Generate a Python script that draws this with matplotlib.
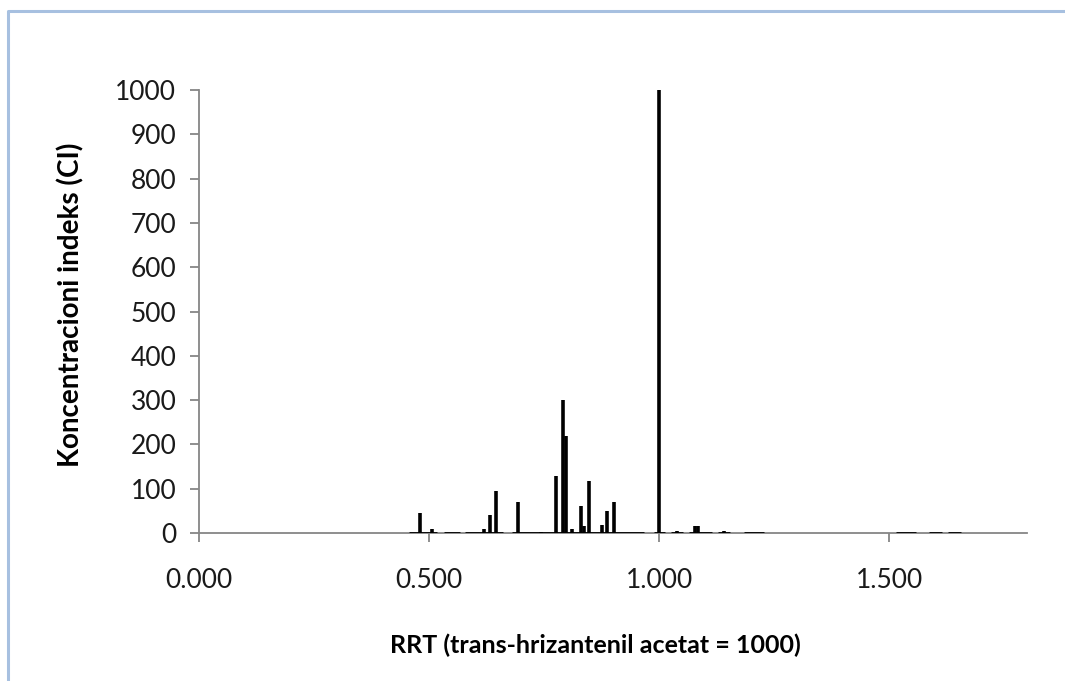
import matplotlib
matplotlib.use("Agg")
import matplotlib.pyplot as plt
from matplotlib.lines import Line2D
from matplotlib.ticker import FuncFormatter

# peaks: relative retention time and concentration index
rrt = [0.481, 0.505, 0.619, 0.632, 0.646, 0.694, 0.743, 0.776, 0.792, 0.798,
       0.810, 0.829, 0.837, 0.847, 0.876, 0.886, 0.902, 1.000, 1.039, 1.077,
       1.085, 1.142]
ci = [45, 10, 10, 40, 94, 71, 3, 128, 300, 220,
      10, 60, 16, 117, 18, 50, 71, 1000, 4, 16,
      16, 4]

# baseline segments (start, end) at CI = 0
seg_start = [0.455, 0.532, 0.577, 0.681, 0.989, 1.026, 1.065, 1.129, 1.185, 1.516, 1.586, 1.629]
seg_end = [0.518, 0.568, 0.660, 0.968, 1.013, 1.052, 1.115, 1.155, 1.227, 1.559, 1.616, 1.656]

x_ticks = [0.0, 0.5, 1.0, 1.5]
y_ticks = list(range(0, 1001, 100))

xlabel = "RRT (trans-hrizantenil acetat = 1000)"
ylabel = "Koncentracioni indeks (CI)"

plt.rcParams['font.family'] = ['Lato', 'DejaVu Sans']

W, H = 1065, 681
fig = plt.figure(figsize=(W / 100, H / 100), dpi=100)
ax = fig.add_axes([199.3 / W, 1 - 533 / H, (1027 - 199.3) / W, (533 - 90) / H])

ax.hlines([0] * len(seg_start), seg_start, seg_end, color='black', lw=2.0, zorder=3)
ax.vlines(rrt, 0, ci, color='black', lw=2.6, zorder=4)

ax.set_xlim(0, 1.8)
ax.set_ylim(0, 1000)
ax.set_xticks(x_ticks)
ax.set_yticks(y_ticks)
ax.xaxis.set_major_formatter(FuncFormatter(lambda v, p: f"{v:.3f}"))

axis_col = '#868686'
for s in ['top', 'right']:
    ax.spines[s].set_visible(False)
for s in ['left', 'bottom']:
    ax.spines[s].set_color(axis_col)
    ax.spines[s].set_linewidth(1.3)
ax.tick_params(axis='both', direction='out', length=6.5, width=1.3, color=axis_col,
               labelsize=19, labelcolor='#1a1a1a')
ax.tick_params(axis='y', pad=10)
ax.tick_params(axis='x', pad=19)
ax.set_clip_on(False)

fig.text(595 / W, 1 - 645 / H, xlabel, ha='center', va='center', fontsize=18,
         fontweight='bold', color='black')
fig.text(71 / W, 1 - 305 / H, ylabel, ha='center', va='center', fontsize=20,
         fontweight='bold', color='black', rotation=90)

# chart frame (light blue)
frame_col = '#A7C0E0'
fig.add_artist(Line2D([8 / W, 8 / W, 1.0], [0.0, 1 - 10.5 / H, 1 - 10.5 / H],
                      transform=fig.transFigure, color=frame_col, lw=2.2))

fig.savefig("out.png", dpi=100)
